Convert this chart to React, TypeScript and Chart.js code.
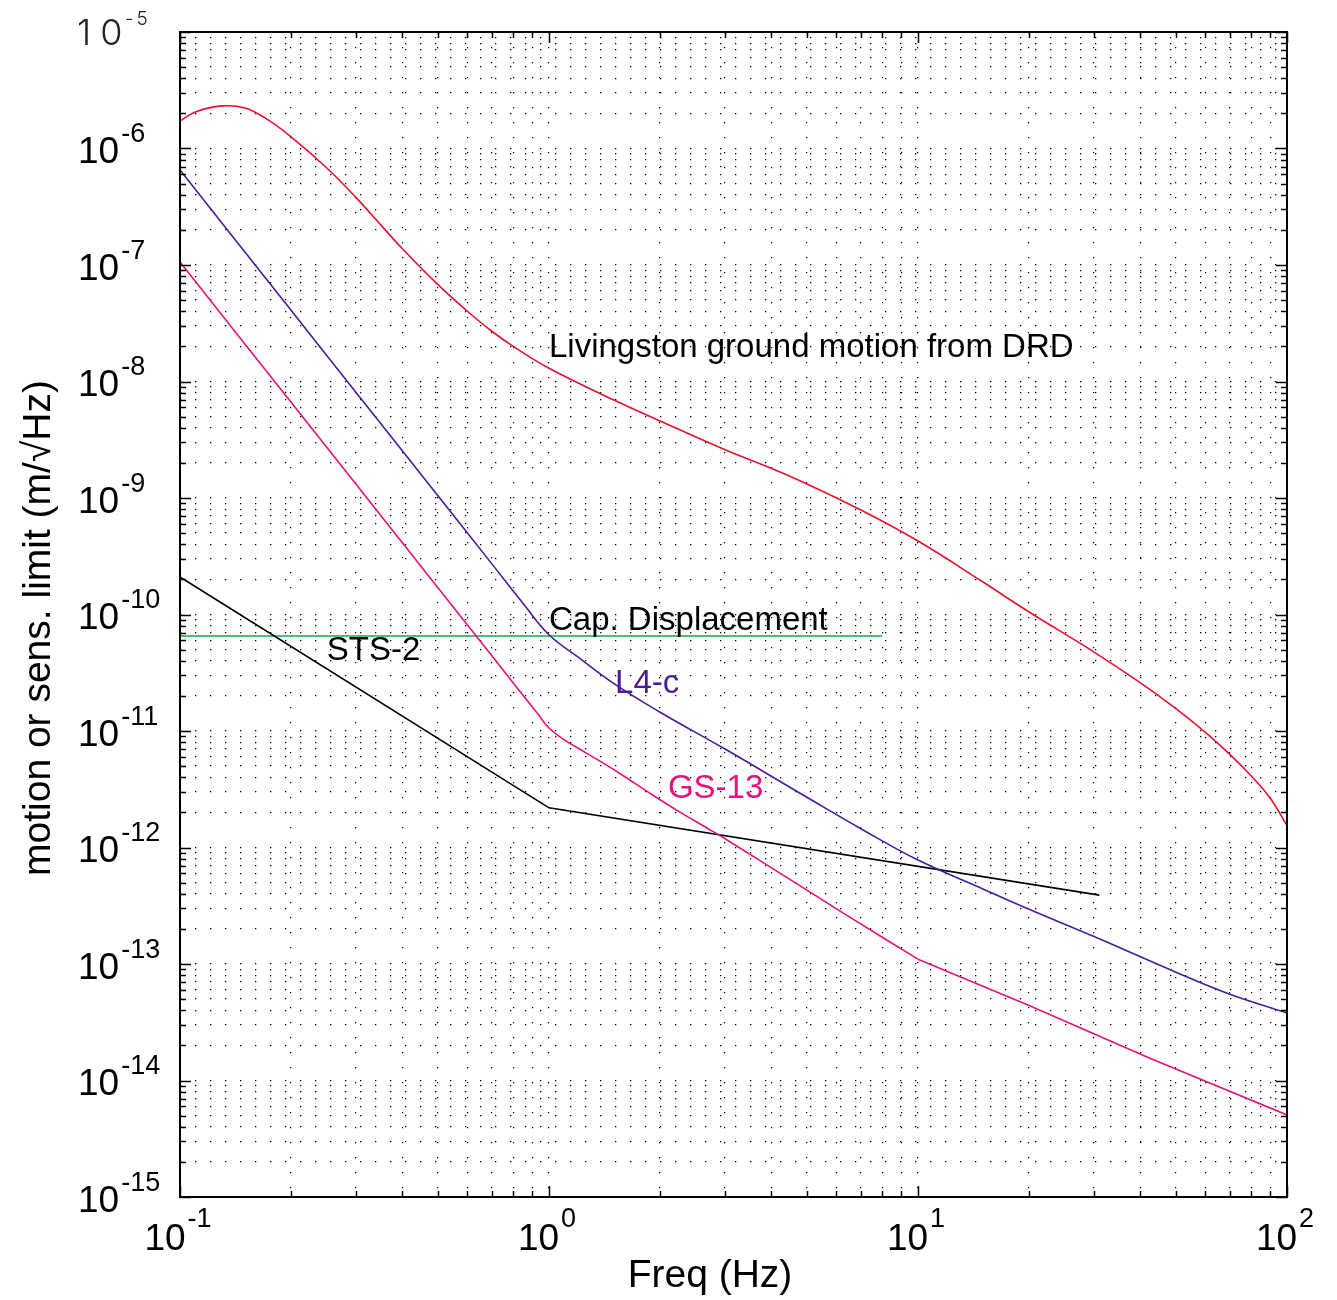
import { useEffect, useRef } from "react";
import { Chart, registerables } from "chart.js";

Chart.register(...registerables);

// ---------- data ----------
const ligoFreq = [0.1, 0.11, 0.13, 0.15, 0.17, 0.2, 0.25, 0.3, 0.35, 0.4, 0.5, 0.6, 0.7, 0.8, 1, 1.5, 2, 3, 4, 5, 7, 10, 15, 20, 30, 40, 50, 60, 70, 80, 90, 100];
const ligoMotion = [1.72e-6, 2.06e-6, 2.32e-6, 2.23e-6, 1.83e-6, 1.26e-6, 6.8e-7, 3.79e-7, 2.21e-7, 1.385e-7, 6.78e-8, 4.03e-8, 2.7e-8, 2.0e-8, 1.3e-8, 6.93e-9, 4.58e-9, 2.6e-9, 1.8e-9, 1.32e-9, 7.89e-10, 4.27e-10, 1.9e-10, 1.05e-10, 4.76e-11, 2.6e-11, 1.557e-11, 9.78e-12, 6.3e-12, 4.11e-12, 2.66e-12, 1.54e-12];

const l4cFreq = [0.1, 0.2, 0.3, 0.5, 0.7, 0.85, 1, 1.2, 1.5, 2, 3, 5, 7, 10, 15, 20, 30, 50, 70, 100];
const l4cNoise = [6.53e-7, 4.08e-8, 8.06e-9, 1.045e-9, 2.72e-10, 1.25e-10, 6.7e-11, 4.3e-11, 2.55e-11, 1.45e-11, 7.0e-12, 2.7e-12, 1.45e-12, 7.8e-13, 4.41e-13, 2.95e-13, 1.72e-13, 8.5e-14, 5.5e-14, 3.8e-14];

// GS-13: smooth part up to 10 Hz, straight part from 10 Hz
const gs13Freq = [0.1, 0.2, 0.3, 0.5, 0.7, 0.85, 0.93, 1, 1.1, 1.27, 1.56, 1.9, 2.27, 2.7, 3, 5, 6.5, 10, 20, 42.5, 100];
const gs13Noise = [1.06e-7, 6.63e-9, 1.31e-9, 1.7e-10, 4.42e-11, 2.03e-11, 1.42e-11, 1.06e-11, 8.4e-12, 6.4e-12, 4.3e-12, 2.85e-12, 2.0e-12, 1.45e-12, 1.19e-12, 4.31e-13, 2.55e-13, 1.1e-13, 4.4e-14, 1.55e-14, 5.06e-15];
const gs13KneeIndex = 17; // 10 Hz

const sts2Freq = [0.1, 1, 31];
const sts2Noise = [2.1e-10, 2.19e-12, 3.9e-13];

const capFreq = [0.1, 8];
const capNoise = [6.53e-11, 6.53e-11];

const labelTexts = ["Livingston ground motion from DRD", "Cap. Displacement", "STS-2", "L4-c", "GS-13"];
const labelFreq = [1.0, 1.0, 0.25, 1.51, 2.1];
const labelValue = [1.62e-8, 7.36e-11, 4.07e-11, 2.12e-11, 2.66e-12];
const labelColors = ["#000000", "#000000", "#000000", "#4b1c96", "#e3127c"];

const xTickExps = [-1, 0, 1, 2];
const yTickExps = [-15, -14, -13, -12, -11, -10, -9, -8, -7, -6, -5];

const xTitle = "Freq (Hz)";
const yTitle = "motion or sens. limit (m/\u221AHz)";

// ---------- helpers ----------
const FONT = "'Liberation Sans', Arial, Helvetica, sans-serif";

function gridValues(exps: number[]) {
  const out: { v: number; major: boolean }[] = [];
  for (let i = 0; i < exps.length - 1; i++) {
    for (let m = 1; m <= 9; m++) out.push({ v: m * Math.pow(10, exps[i]), major: m === 1 });
  }
  out.push({ v: Math.pow(10, exps[exps.length - 1]), major: true });
  return out;
}
const xGrid = gridValues(xTickExps);
const yGrid = gridValues(yTickExps);

function pts(xs: number[], ys: number[]) {
  return xs.map((x, i) => ({ x, y: ys[i] }));
}

const decoPlugin = {
  id: "deco",
  afterDatasetsDraw(chart: any) {
    const { ctx, chartArea: a, scales } = chart;
    const xs = scales.x;
    const ys = scales.y;
    ctx.save();

    // inside tick marks on all four sides
    ctx.strokeStyle = "#000";
    ctx.lineWidth = 1.5;
    ctx.beginPath();
    for (const g of xGrid) {
      const px = Math.round(xs.getPixelForValue(g.v)) + 0.5;
      const len = g.major ? 11 : 6;
      ctx.moveTo(px, a.bottom);
      ctx.lineTo(px, a.bottom - len);
      ctx.moveTo(px, a.top);
      ctx.lineTo(px, a.top + len);
    }
    for (const g of yGrid) {
      const py = Math.round(ys.getPixelForValue(g.v)) + 0.5;
      const len = g.major ? 11 : 6;
      ctx.moveTo(a.left, py);
      ctx.lineTo(a.left + len, py);
      ctx.moveTo(a.right, py);
      ctx.lineTo(a.right - len, py);
    }
    ctx.stroke();

    // box
    ctx.lineWidth = 2;
    ctx.strokeRect(a.left, a.top, a.right - a.left, a.bottom - a.top);

    // annotations
    ctx.font = `33px ${FONT}`;
    ctx.textAlign = "left";
    ctx.textBaseline = "alphabetic";
    labelTexts.forEach((t, i) => {
      ctx.fillStyle = labelColors[i];
      ctx.fillText(t, xs.getPixelForValue(labelFreq[i]), ys.getPixelForValue(labelValue[i]));
    });

    // y tick labels
    ctx.fillStyle = "#000";
    yTickExps.forEach((e, i) => {
      const py = ys.getPixelForValue(Math.pow(10, e));
      if (i === yTickExps.length - 1) {
        ctx.save();
        ctx.fillStyle = "#222";
        ctx.font = `300 36px Inter, ${FONT}`;
        (ctx as any).letterSpacing = "9px";
        ctx.fillText("10", 77, py + 13);
        ctx.font = `300 19px Inter, ${FONT}`;
        (ctx as any).letterSpacing = "3px";
        ctx.fillText("-" + Math.abs(e), 125, py - 7);
        ctx.restore();
      } else {
        ctx.font = `37px ${FONT}`;
        ctx.fillText("10", 78, py + 14.5);
        const w = ctx.measureText("10").width;
        ctx.font = `27px ${FONT}`;
        ctx.fillText(String(e), 78 + w + 2, py - 6.5);
      }
    });

    // x tick labels
    xTickExps.forEach((e) => {
      const px = xs.getPixelForValue(Math.pow(10, e));
      ctx.font = `37px ${FONT}`;
      const w1 = ctx.measureText("10").width;
      ctx.font = `27px ${FONT}`;
      const w2 = ctx.measureText(String(e)).width;
      const left = px - (w1 + 2 + w2) / 2 - 2;
      ctx.font = `37px ${FONT}`;
      ctx.fillText("10", left, 1250);
      ctx.font = `27px ${FONT}`;
      ctx.fillText(String(e), left + w1 + 2, 1227);
    });

    // axis titles
    ctx.font = `39px ${FONT}`;
    ctx.textAlign = "center";
    ctx.fillText(xTitle, 710, 1287);
    ctx.translate(50, 628);
    ctx.rotate(-Math.PI / 2);
    ctx.fillText(yTitle, 0, 0);

    ctx.restore();
  },
};

const lineDs = (label: string, data: { x: number; y: number }[], color: string, tension: number) => ({
  label,
  data,
  borderColor: color,
  backgroundColor: color,
  borderWidth: 1.6,
  pointRadius: 0,
  fill: false,
  tension,
});

export default function App() {
  const ref = useRef<HTMLCanvasElement>(null);
  useEffect(() => {
    const gridCommon = {
      color: "#000",
      lineWidth: 1.2,
      drawTicks: false,
    };
    const gs13 = pts(gs13Freq, gs13Noise);
    const chart = new Chart(ref.current as HTMLCanvasElement, {
      type: "line",
      data: {
        datasets: [
          lineDs("Livingston ground motion from DRD", pts(ligoFreq, ligoMotion), "#e6122d", 0.4),
          lineDs("L4-c", pts(l4cFreq, l4cNoise), "#4b1c96", 0.4),
          lineDs("GS-13", gs13.slice(0, gs13KneeIndex + 1), "#e3127c", 0.4),
          lineDs("GS-13 (above 10 Hz)", gs13.slice(gs13KneeIndex), "#e3127c", 0),
          lineDs("STS-2", pts(sts2Freq, sts2Noise), "#000000", 0),
          lineDs("Cap. Displacement", pts(capFreq, capNoise), "#16a84a", 0),
        ],
      },
      options: {
        responsive: false,
        animation: false,
        devicePixelRatio: 1,
        layout: { padding: { left: 0, top: 32, right: 50, bottom: 0 } },
        plugins: { legend: { display: false }, tooltip: { enabled: false } },
        scales: {
          x: {
            type: "logarithmic",
            min: 0.1,
            max: 100,
            afterBuildTicks: (s: any) => {
              s.ticks = xGrid.map((g) => ({ value: g.v }));
            },
            afterFit: (s: any) => {
              s.height = 103;
            },
            ticks: { display: false },
            grid: gridCommon,
            border: { display: false, dash: [1.3, 13.7] },
          },
          y: {
            type: "logarithmic",
            min: 1e-15,
            max: 1e-5,
            afterBuildTicks: (s: any) => {
              s.ticks = yGrid.map((g) => ({ value: g.v }));
            },
            afterFit: (s: any) => {
              s.width = 180;
            },
            ticks: { display: false },
            grid: gridCommon,
            border: { display: false, dash: [1.3, 13.7] },
          },
        },
      } as any,
      plugins: [decoPlugin],
    });
    return () => chart.destroy();
  }, []);
  return (
    <div style={{ position: "absolute", left: 0, top: 0, width: 1337, height: 1300, background: "#fff" }}>
      <canvas ref={ref} width={1337} height={1300} style={{ display: "block", width: 1337, height: 1300 }} />
    </div>
  );
}
